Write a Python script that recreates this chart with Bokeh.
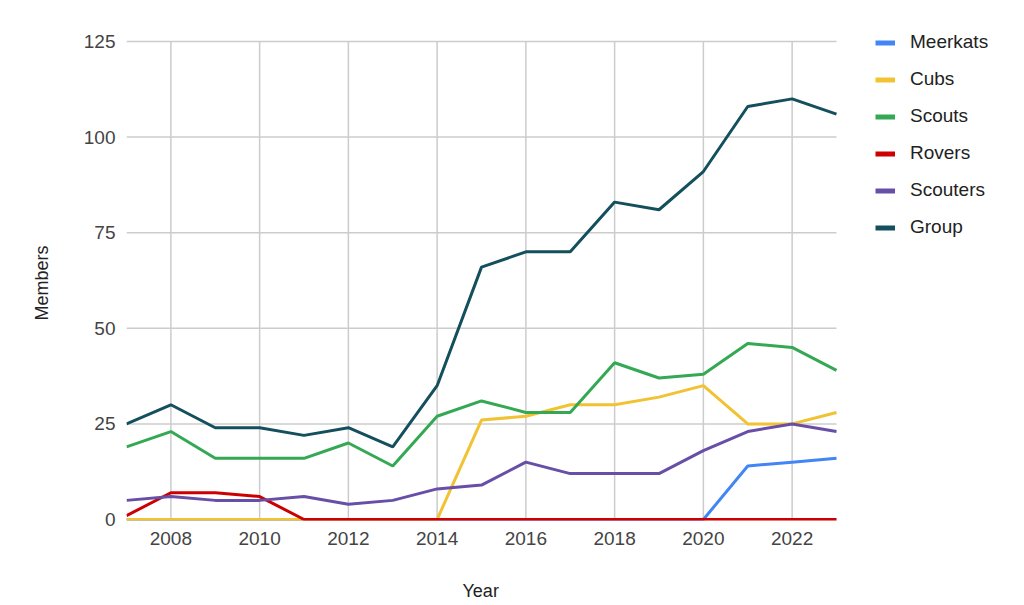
from bokeh.plotting import figure
from bokeh.models import Range1d, Legend, LegendItem, FixedTicker, Title
from bokeh.embed import file_html
from bokeh.resources import INLINE

years = list(range(2007, 2024))
meerkats = [0, 0, 0, 0, 0, 0, 0, 0, 0, 0, 0, 0, 0, 0, 14, 15, 16]
cubs = [0, 0, 0, 0, 0, 0, 0, 0, 26, 27, 30, 30, 32, 35, 25, 25, 28]
scouts = [19, 23, 16, 16, 16, 20, 14, 27, 31, 28, 28, 41, 37, 38, 46, 45, 39]
rovers = [1, 7, 7, 6, 0, 0, 0, 0, 0, 0, 0, 0, 0, 0, 0, 0, 0]
scouters = [5, 6, 5, 5, 6, 4, 5, 8, 9, 15, 12, 12, 12, 18, 23, 25, 23]
group = [25, 30, 24, 24, 22, 24, 19, 35, 66, 70, 70, 83, 81, 91, 108, 110, 106]

names = ["Meerkats", "Cubs", "Scouts", "Rovers", "Scouters", "Group"]
series = [meerkats, cubs, scouts, rovers, scouters, group]
colors = ["#4285F4", "#F1C232", "#34A853", "#CC0000", "#674EA7", "#134F5C"]

x_ticks = [2008, 2010, 2012, 2014, 2016, 2018, 2020, 2022]
y_ticks = [0, 25, 50, 75, 100, 125]

FONT = "Liberation Sans"
GRID = "#cccccc"

# layout (pixels)
W, H = 1024, 605
LEFT, TOP, BOTTOM = 126, 20, 85
PLOT_RIGHT = 836          # right edge of the plotting area
PLOT_TOP = 41             # pixel row of the top tick
ZERO_ROW = 519            # pixel row of the bottom tick
frame_h = H - TOP - BOTTOM
px_x = (PLOT_RIGHT - LEFT) / (years[-1] - years[0])
x_end = years[-1] + (W - PLOT_RIGHT) / px_x
px_y = (ZERO_ROW - PLOT_TOP) / (y_ticks[-1] - y_ticks[0])
y_start = y_ticks[0] - ((H - BOTTOM) - ZERO_ROW) / px_y
y_end = y_start + frame_h / px_y

p = figure(width=W, height=H, output_backend="svg", toolbar_location=None,
           x_range=Range1d(years[0], x_end), y_range=Range1d(y_start, y_end),
           min_border_left=LEFT, min_border_right=0, min_border_top=TOP,
           min_border_bottom=BOTTOM)
p.outline_line_color = None
p.xgrid.visible = False
p.ygrid.visible = False

for axis in (p.xaxis[0], p.yaxis[0]):
    axis.axis_line_color = None
    axis.major_tick_line_color = None
    axis.minor_tick_line_color = None
    axis.major_tick_out = 0
    axis.major_tick_in = 0
    axis.major_label_text_font = FONT
    axis.major_label_text_font_size = "19px"
    axis.major_label_text_color = "#444444"
    axis.major_label_standoff = 11

p.xaxis.ticker = FixedTicker(ticks=x_ticks)
p.yaxis.ticker = FixedTicker(ticks=y_ticks)

# axis titles, centred on the plotting area rather than on the frame
x_title = Title(text="\nYear", align="left", offset=336, standoff=0,
                text_line_height=1.55,
                text_font=FONT, text_font_size="18px", text_font_style="normal",
                text_color="#222222")
y_title = Title(text="Members", align="left", offset=200, standoff=57,
                text_font=FONT, text_font_size="18px", text_font_style="normal",
                text_color="#222222")
p.add_layout(x_title, "below")
p.add_layout(y_title, "left")

# grid lines, limited to the plotting area
nx, ny = len(x_ticks), len(y_ticks)
p.segment(x0=x_ticks, y0=[y_ticks[0]] * nx, x1=x_ticks, y1=[y_ticks[-1]] * nx,
          line_color=GRID, line_width=1.5)
p.segment(x0=[years[0]] * ny, y0=y_ticks, x1=[years[-1]] * ny, y1=y_ticks,
          line_color=GRID, line_width=1.5)

for vals, c in zip(series, colors):
    p.line(years, vals, line_color=c, line_width=3)

items = []
nan = float("nan")
for name, c in zip(names, colors):
    dummy = p.line([years[0], years[1]], [nan, nan], line_color=c, line_width=5)
    items.append(LegendItem(label=name, renderers=[dummy]))

legend = Legend(items=items, location=(875 - LEFT, 282), orientation="vertical")
legend.border_line_color = None
legend.background_fill_alpha = 0
legend.padding = 0
legend.margin = 0
legend.spacing = 15
legend.glyph_width = 20
legend.glyph_height = 21
legend.label_height = 21
legend.label_standoff = 15
legend.label_text_font = FONT
legend.label_text_font_size = "19px"
legend.label_text_color = "#222222"
p.add_layout(legend, "center")

open("out.html", "w").write(file_html(p, INLINE))
